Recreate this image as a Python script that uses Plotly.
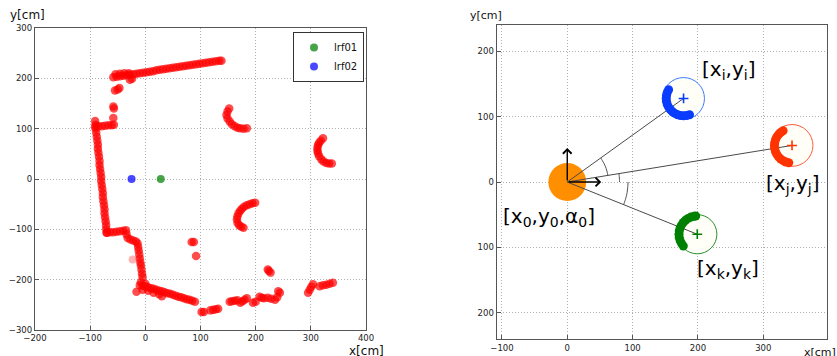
import plotly.graph_objects as go

# ---------------- Left panel: laser scan (cm) ----------------
wall_left_x = [-91, -90, -90, -89, -88, -87, -86, -86, -85, -84, -83, -83, -82, -81, -80,
               -80, -79, -78, -77, -77, -76, -75, -74, -74, -73, -72, -71, -71, -70]
wall_left_y = [115, 108, 100, 92, 84, 76, 68, 60, 52, 44, 36, 28, 20, 12, 4,
               -4, -12, -20, -28, -36, -44, -52, -60, -68, -76, -84, -92, -100, -107]

wall_top_x = [-58, -52, -46, -40, -34, -28, -22, -16, -10, -4, 2, 8, 14, 20, 26, 32, 38, 44,
              50, 56, 62, 68, 74, 80, 86, 92, 98, 104, 110, 116, 122, 128, 134, 138,
              -54, -46, -38, -30, -28, -24]
wall_top_y = [202, 203, 204, 205, 206, 207, 208, 209, 210, 211, 212, 213, 214, 216, 217, 218, 219, 220,
              221, 222, 223, 224, 225, 226, 227, 228, 229, 230, 231, 232, 233, 234, 235, 235,
              208, 209, 210, 210, 197, 199]

steps_x = [-55, -50, -47, -58, -57, -58]
steps_y = [176, 178, 181, 144, 140, 121]

ledge_x = [-91, -85, -79, -73, -67, -61, -57]
ledge_y = [104, 105, 105, 106, 107, 107, 108]

low_x = [-70, -64, -58, -52, -46, -40, -35, -34, -32, -27, -22, -17, -14, -13, -12, -11, -10,
         -9, -8, -7, -6, -5]
low_y = [-107, -106, -106, -105, -104, -103, -102, -110, -117, -120, -122, -124, -128, -135, -142,
         -150, -158, -166, -172, -180, -188, -195]

diag_x = [-10, -5, 0, 5, 10, 15, 20, 25, 30, 35, 40, 45, 50, 55, 60, 65, 70, 75, 80, 85, 90,
          -16, -5, 5, 15, 25, 30, -8, 0]
diag_y = [-211, -212, -213, -215, -217, -218, -220, -222, -223, -225, -227, -228, -230, -232,
          -234, -235, -237, -239, -240, -242, -244, -224, -220, -222, -226, -229, -233, -205, -208]

misc_x = [84, 88, 92, 102, 106, 118, 123, 128, 132]
misc_y = [-125, -125, -153, -264, -264, -261, -260, -259, -258]

floor_x = [153, 157, 162, 167, 172, 176, 180, 184, 195, 200, 207, 211, 215, 222, 228, 235, 239,
           241, 244, 222, 224, 227]
floor_y = [-244, -243, -242, -241, -246, -243, -240, -237, -246, -244, -234, -236, -237, -236,
           -238, -240, -235, -223, -226, -180, -183, -186]

far_x = [295, 298, 301, 304, 316, 322, 328, 334, 340]
far_y = [-226, -220, -214, -209, -213, -211, -210, -208, -206]

arc_a_x = [152, 149, 147, 149, 153, 157, 162, 167, 172, 178, 184]
arc_a_y = [140, 134, 127, 120, 114, 109, 105, 102, 101, 100, 101]
arc_b_x = [322, 318, 315, 313, 312, 312, 313, 315, 319, 323, 328, 333, 338]
arc_b_y = [81, 76, 72, 67, 62, 56, 51, 45, 39, 35, 32, 31, 31]
arc_c_x = [199, 194, 189, 184, 179, 175, 172, 169, 167, 166, 167, 170, 174, 178]
arc_c_y = [-47, -48, -50, -52, -55, -59, -63, -68, -74, -80, -87, -92, -95, -97]

faint_x = [-23]
faint_y = [-160]

lrf01_x, lrf01_y = [28], [0]
lrf02_x, lrf02_y = [-25], [0]

left_ticks_x = [-200, -100, 0, 100, 200, 300, 400]
left_ticks_y = [-300, -200, -100, 0, 100, 200, 300]

# ---------------- Right panel: diagram ----------------
robot_xy = (0, 0)
robot_r = 29
target_names = ["i", "j", "k"]
target_cx = [178, 344, 199]
target_cy = [128, 56, -80]
target_r = [32, 32, 30]
target_col = ["#0a3cff", "#ff3300", "#008000"]
target_edge = ["#3d7bff", "#ff5a3c", "#2a8f2a"]

seg_i_x = [155.1, 153.1, 151.9, 151.5, 151.9, 153.1, 155.1, 157.7, 161.0, 164.8, 168.9, 173.4, 178.0, 182.6, 187.1]
seg_i_y = [141.3, 137.1, 132.6, 128.0, 123.4, 118.9, 114.8, 111.0, 107.7, 105.1, 103.1, 101.9, 101.5, 101.9, 103.1]
seg_j_x = [330.4, 326.6, 323.3, 320.7, 318.7, 317.5, 317.1, 317.5, 318.7, 320.7, 323.3, 326.6, 330.4, 334.5, 339.0]
seg_j_y = [78.5, 75.9, 72.6, 68.9, 64.7, 60.2, 55.6, 51.0, 46.5, 42.4, 38.6, 35.3, 32.7, 30.7, 29.5]
seg_k_x = [196.6, 194.1, 189.4, 185.0, 181.0, 177.6, 174.8, 172.7, 171.4, 171.0, 171.4, 172.7, 174.8, 177.6]
seg_k_y = [-52.1, -52.4, -53.7, -55.8, -58.6, -62.0, -66.0, -70.4, -75.1, -80.0, -84.9, -89.6, -94.0, -98.0]

ang_i_x = [62.2, 61.1, 59.6, 57.6, 55.1, 53.4, 51.2]
ang_i_y = [10.1, 15.2, 20.5, 25.6, 30.5, 33.4, 36.8]
ang_j_x = [80.0, 79.9, 79.6, 79.0]
ang_j_y = [0.0, 4.2, 8.4, 12.8]
ang_k_x = [93.0, 92.6, 91.6, 89.8, 88.4, 86.3]
ang_k_y = [0.0, -8.1, -16.1, -24.1, -28.7, -34.7]

axis_arrow_len = 52

right_ticks_x = [-100, 0, 100, 200, 300]
right_ticks_y = [-200, -100, 0, 100, 200]
right_ticktext_y = ["200", "100", "0", "100", "200"]

labels_text = ["[x<sub>i</sub>,y<sub>i</sub>]", "[x<sub>j</sub>,y<sub>j</sub>]",
               "[x<sub>k</sub>,y<sub>k</sub>]", "[x<sub>0</sub>,y<sub>0</sub>,α<sub>0</sub>]"]
labels_x = [247, 345, 246, -28]
labels_y = [172, -3, -133, -54]

# ---------------- Build figure ----------------
fig = go.Figure()

scan_x = (wall_left_x + wall_top_x + steps_x + ledge_x + low_x + diag_x + misc_x +
          floor_x + far_x + arc_a_x + arc_b_x + arc_c_x)
scan_y = (wall_left_y + wall_top_y + steps_y + ledge_y + low_y + diag_y + misc_y +
          floor_y + far_y + arc_a_y + arc_b_y + arc_c_y)

fig.add_trace(go.Scatter(x=scan_x, y=scan_y, mode="markers", showlegend=False,
                         marker=dict(size=8.5, color="#ff0000", opacity=0.7, line=dict(width=0)),
                         xaxis="x", yaxis="y", hoverinfo="skip"))
fig.add_trace(go.Scatter(x=faint_x, y=faint_y, mode="markers", showlegend=False,
                         marker=dict(size=8, color="#ff0000", opacity=0.3, line=dict(width=0)),
                         xaxis="x", yaxis="y", hoverinfo="skip"))
fig.add_trace(go.Scatter(x=lrf01_x, y=lrf01_y, mode="markers", name="lrf01",
                         marker=dict(size=8, color="rgba(0,128,0,0.72)", line=dict(width=0)),
                         xaxis="x", yaxis="y"))
fig.add_trace(go.Scatter(x=lrf02_x, y=lrf02_y, mode="markers", name="lrf02",
                         marker=dict(size=8, color="rgba(0,0,255,0.72)", line=dict(width=0)),
                         xaxis="x", yaxis="y"))

# lines from origin to targets
for cx, cy in zip(target_cx, target_cy):
    fig.add_trace(go.Scatter(x=[robot_xy[0], cx], y=[robot_xy[1], cy], mode="lines",
                             line=dict(color="#4a4a4a", width=1), showlegend=False,
                             xaxis="x2", yaxis="y2", hoverinfo="skip"))
# angle arcs
for ax_, ay_ in [(ang_i_x, ang_i_y), (ang_j_x, ang_j_y), (ang_k_x, ang_k_y)]:
    fig.add_trace(go.Scatter(x=ax_, y=ay_, mode="lines", line=dict(color="#555555", width=1, shape="spline"),
                             showlegend=False, xaxis="x2", yaxis="y2", hoverinfo="skip"))
# thick observed segments
for sx, sy, col in [(seg_i_x, seg_i_y, target_col[0]), (seg_j_x, seg_j_y, target_col[1]),
                    (seg_k_x, seg_k_y, target_col[2])]:
    fig.add_trace(go.Scatter(x=sx, y=sy, mode="markers", showlegend=False,
                             marker=dict(size=9, color=col, line=dict(width=0)),
                             xaxis="x2", yaxis="y2", hoverinfo="skip"))
# centre crosses
fig.add_trace(go.Scatter(x=target_cx, y=target_cy, mode="markers", showlegend=False,
                         marker=dict(symbol="cross-thin", size=7, line=dict(width=1.6, color=target_col)),
                         xaxis="x2", yaxis="y2", hoverinfo="skip"))

shapes = []
for cx, cy, r, ec in zip(target_cx, target_cy, target_r, target_edge):
    shapes.append(dict(type="circle", xref="x2", yref="y2", x0=cx - r, x1=cx + r, y0=cy - r, y1=cy + r,
                       line=dict(color=ec, width=1), fillcolor="#fffff7", layer="between"))
shapes.append(dict(type="circle", xref="x2", yref="y2", x0=robot_xy[0] - robot_r, x1=robot_xy[0] + robot_r,
                   y0=robot_xy[1] - robot_r, y1=robot_xy[1] + robot_r,
                   line=dict(width=0), fillcolor="#ff8f00", layer="between"))

annotations = []
# robot axis arrows
for tx, ty in [(0, axis_arrow_len), (axis_arrow_len, 0)]:
    annotations.append(dict(x=tx, y=ty, ax=robot_xy[0], ay=robot_xy[1], xref="x2", yref="y2",
                            axref="x2", ayref="y2", text="", showarrow=True, arrowhead=4,
                            arrowsize=1.2, arrowwidth=1.4, arrowcolor="black"))
for t, lx, ly in zip(labels_text, labels_x, labels_y):
    annotations.append(dict(x=lx, y=ly, xref="x2", yref="y2", text=t, showarrow=False,
                            xanchor="center", yanchor="middle",
                            font=dict(size=20, color="black", family="DejaVu Sans")))
# axis titles
title_font = dict(size=12, color="#111")
annotations += [
    dict(x=27 / 837, y=1 - 15 / 356, xref="paper", yref="paper", text="y[cm]", showarrow=False,
         xanchor="center", yanchor="middle", font=title_font),
    dict(x=366 / 837, y=1 - 351 / 356, xref="paper", yref="paper", text="x[cm]", showarrow=False,
         xanchor="center", yanchor="middle", font=title_font),
    dict(x=486 / 837, y=1 - 15 / 356, xref="paper", yref="paper", text="y[cm]", showarrow=False,
         xanchor="center", yanchor="middle", font=dict(size=11, color="#111")),
    dict(x=820 / 837, y=1 - 352 / 356, xref="paper", yref="paper", text="x[cm]", showarrow=False,
         xanchor="center", yanchor="middle", font=dict(size=11, color="#111")),
]

axis_common = dict(showgrid=True, gridcolor="#b0b0b0", griddash="1px,2px", gridwidth=1, zeroline=False,
                   showline=True, mirror=True, linecolor="#555555", linewidth=1.3,
                   ticks="inside", ticklen=4, tickcolor="#555555", tickfont=dict(size=8.5, color="#222"))

fig.update_layout(
    width=837, height=356,
    margin=dict(l=0, r=0, t=0, b=0, autoexpand=False),
    paper_bgcolor="white", plot_bgcolor="white",
    font=dict(family="DejaVu Sans"),
    xaxis=dict(domain=[35 / 837, 366 / 837], range=[-200, 400], tickvals=left_ticks_x, anchor="y",
               **axis_common),
    yaxis=dict(domain=[1 - 330 / 356, 1 - 28 / 356], range=[-300, 300], tickvals=left_ticks_y, anchor="x",
               **axis_common),
    xaxis2=dict(domain=[496.7 / 837, 827.3 / 837], range=[-108, 398], tickvals=right_ticks_x, anchor="y2",
                **axis_common),
    yaxis2=dict(domain=[1 - 339.3 / 356, 1 - 24.7 / 356], range=[-241, 241], tickvals=right_ticks_y,
                ticktext=right_ticktext_y, anchor="x2", **axis_common),
    showlegend=True,
    legend=dict(x=364 / 837, y=1 - 32 / 356, xanchor="right", yanchor="top", bgcolor="white",
                bordercolor="#333333", borderwidth=1, font=dict(size=10, color="#111"),
                itemwidth=30, tracegroupgap=0),
    shapes=shapes, annotations=annotations,
)

fig.write_html("out.html", config={"displayModeBar": False},
               post_script="document.body.style.margin='0';document.body.style.overflow='hidden';")
